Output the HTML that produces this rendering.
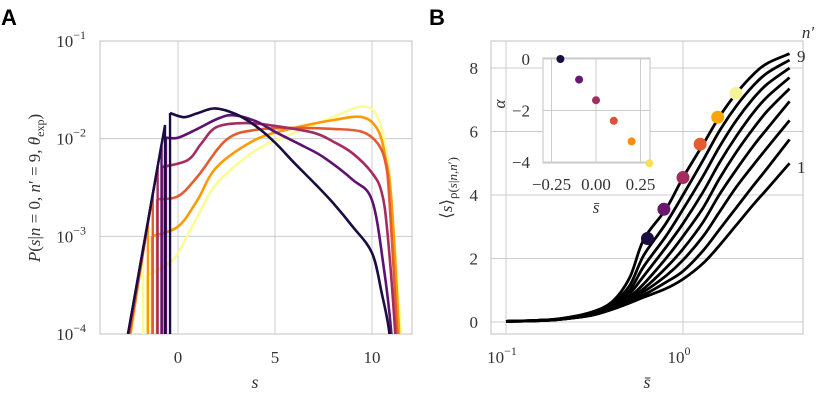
<!DOCTYPE html>
<html><head><meta charset="utf-8">
<style>
body{margin:0;background:#fff;}
svg{display:block;font-family:"Liberation Serif",serif;}
.tk{font-size:17px;fill:#333;}
.pl{font-family:"Liberation Sans",sans-serif;font-weight:bold;font-size:22px;fill:#000;}
</style></head>
<body>
<svg id="c" width="830" height="415" viewBox="0 0 830 415">
<defs>
<clipPath id="clipA"><rect x="100" y="41" width="312" height="293"/></clipPath>
<clipPath id="clipB"><rect x="491" y="41" width="312" height="293"/></clipPath>
</defs>
<text class="pl" x="1" y="25">A</text>
<text class="pl" x="429" y="25">B</text>
<g id="gA"></g>
<g id="gB"></g>
<g id="gI"></g>
</svg>
<script>
// ---------- Panel A data ----------
const aColors = ["#1b0c41","#5c126e","#a52c60","#e55c30","#fb9b06","#fafc96"];
const aS = [
 [-0.41,0.3,1.0,1.9,3,4,5,6,7.1,8,9,10,10.5,10.9],
 [-0.62,0,1,2,2.8,4,5,6.5,7.5,9,10,10.6,11.0],
 [-0.82,0.5,1.2,2,3.5,5,7,8,9,10,10.5,10.8,11.2],
 [-1.08,0,1,2.5,4,6,8,9.5,10.3,10.7,10.9,11.3],
 [-1.34,0,1,2,4,6,8,9.5,10.3,10.7,11,11.4],
 [-1.6,-0.5,0,1,2,4,6,8,9.5,10.3,10.8,11,11.5]
];
const aLogP = [
 [-1.737,-1.78,-1.74,-1.69,-1.75,-1.87,-2.04,-2.25,-2.47,-2.66,-2.9,-3.17,-3.58,-4],
 [-1.99,-1.99,-1.90,-1.80,-1.76,-1.82,-1.93,-2.08,-2.19,-2.42,-2.63,-3.31,-4],
 [-2.29,-2.22,-2.05,-1.88,-1.84,-1.87,-1.94,-2.03,-2.15,-2.35,-2.55,-2.97,-4],
 [-2.62,-2.59,-2.39,-2.01,-1.91,-1.89,-1.90,-1.93,-2.05,-2.25,-2.63,-4],
 [-3.0,-2.9,-2.63,-2.29,-2.01,-1.89,-1.81,-1.78,-1.91,-2.2,-2.63,-4],
 [-3.40,-3.28,-3.17,-2.80,-2.46,-2.12,-1.94,-1.78,-1.67,-1.78,-2.2,-2.63,-4]
];
const aLeftS = [-2.58,-2.58,-2.55,-2.5,-2.45,-2.4];
const aSpikeS = [-0.67,-0.85,-1.05,-1.3,-1.55,-1.8];
const aSpikeLogP = [-1.86,-2.06,-2.29,-2.57,-2.85,-3.13];
const aXTicks = [0,5,10];
const aYTicks = [-1,-2,-3,-4];
// ---------- Panel B data ----------
const bX = [0.1,0.15,0.2,0.3,0.4,0.5,0.6,0.8,1.0,1.3,1.6,2.0,2.5,3.0,4.0];
const bCurves = [
 [0.02,0.04,0.08,0.20,0.40,0.60,0.78,1.05,1.35,1.85,2.4,3.05,3.7,4.2,5.0],
 [0.02,0.04,0.08,0.21,0.42,0.65,0.85,1.25,1.6,2.25,2.9,3.6,4.3,4.85,5.75],
 [0.02,0.04,0.08,0.22,0.45,0.70,0.95,1.45,1.95,2.7,3.45,4.25,4.95,5.5,6.35],
 [0.02,0.04,0.09,0.23,0.47,0.75,1.05,1.7,2.3,3.15,4.0,4.8,5.55,6.1,6.95],
 [0.02,0.04,0.09,0.24,0.50,0.80,1.2,2.0,2.7,3.6,4.5,5.35,6.1,6.65,7.35],
 [0.02,0.05,0.09,0.25,0.52,0.90,1.45,2.35,3.1,4.1,5.0,5.85,6.6,7.1,7.7],
 [0.02,0.05,0.10,0.27,0.55,1.00,1.75,2.7,3.55,4.6,5.5,6.35,7.05,7.5,8.0],
 [0.02,0.05,0.10,0.28,0.60,1.15,2.1,3.1,4.0,5.1,6.0,6.8,7.45,7.85,8.25],
 [0.02,0.05,0.10,0.30,0.65,1.40,2.6,3.55,4.55,5.6,6.45,7.2,7.8,8.15,8.45]
];
const dotX = [0.63,0.78,1.0,1.25,1.57,1.99];
const dotY = [2.63,3.55,4.55,5.6,6.45,7.2];
const dotColors = ["#1b0c41","#6a176e","#a52c60","#e45a31","#fca50a","#f6f49a"];
const bYTicks = [0,2,4,6,8];
const bXTicks = [-1,0];
// ---------- Inset data ----------
const inX = [-0.2,-0.095,0.0,0.1,0.2,0.3];
const inY = [0.0,-0.8,-1.6,-2.4,-3.2,-4.05];
const inColors = ["#1b0c41","#6a176e","#a52c60","#dd513a","#fb8b0d","#f8df5a"];
const inXTicks = [-0.25,0.00,0.25];
const inYTicks = [0,-2,-4];

const NS="http://www.w3.org/2000/svg";
function mk(p,tag,attrs){const e=document.createElementNS(NS,tag);for(const k in attrs)e.setAttribute(k,attrs[k]);p.appendChild(e);return e;}
const fmt=v=>(v<0?"\u2212":"")+Math.abs(v);

// Panel A
const gA=document.getElementById('gA');
const ax=s=>178+s*19.4, ay=l=>41+(-1-l)*97.67;
mk(gA,'rect',{x:100,y:41,width:312,height:293,fill:'none',stroke:'#ccc','stroke-width':1.2});
aXTicks.forEach(t=>{
 const l=mk(gA,'line',{x1:ax(t),x2:ax(t),y1:41,y2:334,stroke:'#ccc','stroke-width':1});
 
 const tx=mk(gA,'text',{x:ax(t),y:363,'text-anchor':'middle',class:'tk'});tx.textContent=t;
 
});
aYTicks.forEach(t=>{
 const l=mk(gA,'line',{x1:100,x2:412,y1:ay(t),y2:ay(t),stroke:'#ccc','stroke-width':1});
 
 const tx=mk(gA,'text',{x:86,y:ay(t)+6,'text-anchor':'end',class:'tk'});
 
 tx.appendChild(document.createTextNode('10'));
 const sp=mk(tx,'tspan',{dy:-8,'font-size':12});sp.textContent=fmt(t);
});
const cA=mk(gA,'g',{'clip-path':'url(#clipA)'});
function smooth(pts){let d='M'+pts[0][0]+','+pts[0][1];for(let i=1;i<pts.length;i++){const p0=pts[Math.max(i-2,0)],p1=pts[i-1],p2=pts[i],p3=pts[Math.min(i+1,pts.length-1)];const c1=[p1[0]+(p2[0]-p0[0])/6,p1[1]+(p2[1]-p0[1])/6],c2=[p2[0]-(p3[0]-p1[0])/6,p2[1]-(p3[1]-p1[1])/6];d+=' C'+c1+' '+c2+' '+p2;}return d;}
for(let i=aS.length-1;i>=0;i--){
 const col=aColors[i];
 const s0=aS[i][0],l0=aLogP[i][0];
 const tri=mk(cA,'path',{d:`M${ax(aLeftS[i])},${ay(-4)} L${ax(aSpikeS[i])},${ay(aSpikeLogP[i])} L${ax(aSpikeS[i])},${ay(-4.3)} M${ax(s0)},${ay(-4.3)} L${ax(s0)},${ay(l0)}`,fill:'none',stroke:col,'stroke-width':2.4,'stroke-linejoin':'miter'});
 
 const pts=aS[i].map((s,j)=>[ax(s),ay(aLogP[i][j])]);
 pts.push([ax(aS[i][aS[i].length-1]+0.1),ay(-4.5)]);
 const p=mk(cA,'path',{d:smooth(pts),fill:'none',stroke:col,'stroke-width':2.6});
 
}
let t=mk(gA,'text',{x:255,y:388,'text-anchor':'middle','font-size':18,'font-style':'italic',fill:'#333'});t.textContent='s';

t=mk(gA,'text',{transform:'translate(40,188) rotate(-90)','text-anchor':'middle','font-size':17,fill:'#333'});

t.innerHTML='<tspan font-style="italic">P</tspan>(<tspan font-style="italic">s</tspan>|<tspan font-style="italic">n</tspan> = 0, <tspan font-style="italic">n</tspan>′ = 9, <tspan font-style="italic">θ</tspan><tspan font-size="12" dy="4">exp</tspan><tspan dy="-4">)</tspan>';

// Panel B
const gB=document.getElementById('gB');
const bx=v=>683+Math.log10(v)*177, by=v=>322-v*31.75;
mk(gB,'rect',{x:491,y:41,width:312,height:293,fill:'none',stroke:'#ccc','stroke-width':1.2});
bXTicks.forEach(e=>{
 const l=mk(gB,'line',{x1:bx(Math.pow(10,e)),x2:bx(Math.pow(10,e)),y1:41,y2:334,stroke:'#ccc','stroke-width':1});
 
 const tx=mk(gB,'text',{x:bx(Math.pow(10,e))-4,y:363,'text-anchor':'middle',class:'tk'});
 
 tx.appendChild(document.createTextNode('10'));const sp=mk(tx,'tspan',{dy:-8,'font-size':12});sp.textContent=fmt(e);
});
bYTicks.forEach(v=>{
 const l=mk(gB,'line',{x1:491,x2:803,y1:by(v),y2:by(v),stroke:'#ccc','stroke-width':1});
 
 const tx=mk(gB,'text',{x:478,y:by(v)+6,'text-anchor':'end',class:'tk'});tx.textContent=v;
 
});
const cB=mk(gB,'g',{'clip-path':'url(#clipB)'});
bCurves.forEach(c=>{
 const p=mk(cB,'path',{d:smooth(bX.map((x,j)=>[bx(x),by(c[j])])),fill:'none',stroke:'#000','stroke-width':2.8});
 
});
dotX.forEach((x,i)=>{
 const d=mk(cB,'circle',{cx:bx(x),cy:by(dotY[i]),r:6.5,fill:dotColors[i]});
 
});
t=mk(gB,'text',{x:647,y:388,'text-anchor':'middle','font-size':18,'font-style':'italic',fill:'#333'});t.textContent='s̄';

t=mk(gB,'text',{transform:'translate(452,188) rotate(-90)','text-anchor':'middle','font-size':17,fill:'#333'});

t.innerHTML='⟨<tspan font-style="italic">s</tspan>⟩<tspan font-size="13" dy="5">ρ(<tspan font-style="italic">s</tspan>|<tspan font-style="italic">n</tspan>,<tspan font-style="italic">n</tspan>′)</tspan>';
t=mk(gB,'text',{x:808,y:38,'text-anchor':'middle','font-size':17,'font-style':'italic',fill:'#333'});t.textContent='n′';

t=mk(gB,'text',{x:797,y:62,'font-size':17,fill:'#333'});t.textContent='9';

t=mk(gB,'text',{x:797,y:173,'font-size':17,fill:'#333'});t.textContent='1';


// Inset
const gI=document.getElementById('gI');
const ix=v=>596+v*178, iy=v=>59-v*25.75;
mk(gI,'rect',{x:543,y:58,width:107,height:105,fill:'#fff',stroke:'#ccc','stroke-width':1.2});
inXTicks.forEach(v=>{
 const l=mk(gI,'line',{x1:ix(v),x2:ix(v),y1:58,y2:163,stroke:'#ccc','stroke-width':1});
 
 const tx=mk(gI,'text',{x:ix(v),y:190,'text-anchor':'middle',class:'tk'});
 tx.textContent=v<0?'\u2212'+Math.abs(v).toFixed(2):v.toFixed(2);
 
});
inYTicks.forEach(v=>{
 const l=mk(gI,'line',{x1:543,x2:650,y1:iy(v),y2:iy(v),stroke:'#ccc','stroke-width':1});
 
 const tx=mk(gI,'text',{x:530,y:iy(v)+6,'text-anchor':'end',class:'tk'});tx.textContent=fmt(v);
 
});
inX.forEach((x,i)=>{
 const d=mk(gI,'circle',{cx:ix(x),cy:iy(inY[i]),r:4,fill:inColors[i]});
 
});
t=mk(gI,'text',{x:596,y:213,'text-anchor':'middle','font-size':17,'font-style':'italic',fill:'#333'});t.textContent='s̄';

t=mk(gI,'text',{transform:'translate(505,104) rotate(-90)','text-anchor':'middle','font-size':17,'font-style':'italic',fill:'#333'});t.textContent='α';

</script>
</body></html>
